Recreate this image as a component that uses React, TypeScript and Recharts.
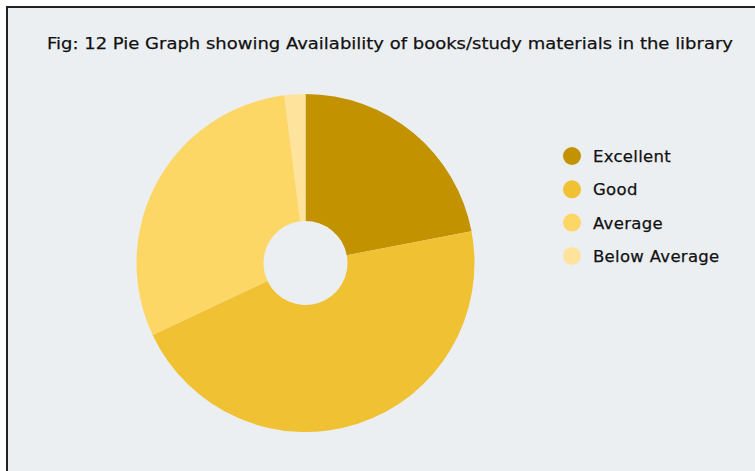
import React from "react";
import { PieChart, Pie, Cell, Legend } from "recharts";

const categories = ["Excellent", "Good", "Average", "Below Average"];
const values = [22, 46, 30, 2];
const colors = ["#c29200", "#f0c132", "#fdd766", "#fee39c"];
const title = "Fig: 12 Pie Graph showing Availability of books/study materials in the library";

const data = categories.map((name, i) => ({ name, value: values[i] }));

const FONT = "'DejaVu Sans', 'Noto Sans', sans-serif";

const LegendContent = () => (
  <svg width={200} height={140}>
    {categories.map((c, i) => (
      <g key={c}>
        <circle cx={9} cy={9 + i * 33.3} r={9} fill={colors[i]} />
        <text x={30} y={15 + i * 33.3} fontFamily={FONT} fontSize={16.5} letterSpacing={0.3} fill="#111" stroke="#111" strokeWidth={0.25}>
          {c}
        </text>
      </g>
    ))}
  </svg>
);

export default function App() {
  return (
    <div style={{ position: "absolute", left: 0, top: 0, width: 755, height: 471, background: "#ffffff", overflow: "hidden" }}>
      <div
        style={{
          position: "absolute",
          left: 6,
          top: 6,
          width: 800,
          height: 500,
          background: "#eceff1",
          borderLeft: "2px solid #222",
          borderTop: "2px solid #222",
        }}
      />
      <svg style={{ position: "absolute", left: 0, top: 0 }} width={755} height={80}>
        <text
          x={390}
          y={49}
          textAnchor="middle"
          fontFamily={FONT}
          fontSize={16.5}
          fill="#111"
          stroke="#111"
          strokeWidth={0.25}
          textLength={686}
          lengthAdjust="spacingAndGlyphs"
        >
          {title}
        </text>
      </svg>
      <div style={{ position: "absolute", left: 0, top: 0 }}>
        <PieChart width={755} height={471} margin={{ top: 0, right: 0, bottom: 0, left: 0 }}>
          <Pie
            data={data}
            dataKey="value"
            nameKey="name"
            cx={305.5}
            cy={263}
            innerRadius={42}
            outerRadius={169}
            startAngle={90}
            endAngle={-270}
            stroke="none"
            isAnimationActive={false}
          >
            {data.map((d, i) => (
              <Cell key={d.name} fill={colors[i]} />
            ))}
          </Pie>
          <Legend
            content={<LegendContent />}
            wrapperStyle={{ position: "absolute", left: 563, top: 147, width: 200, height: 140 }}
          />
        </PieChart>
      </div>
    </div>
  );
}
